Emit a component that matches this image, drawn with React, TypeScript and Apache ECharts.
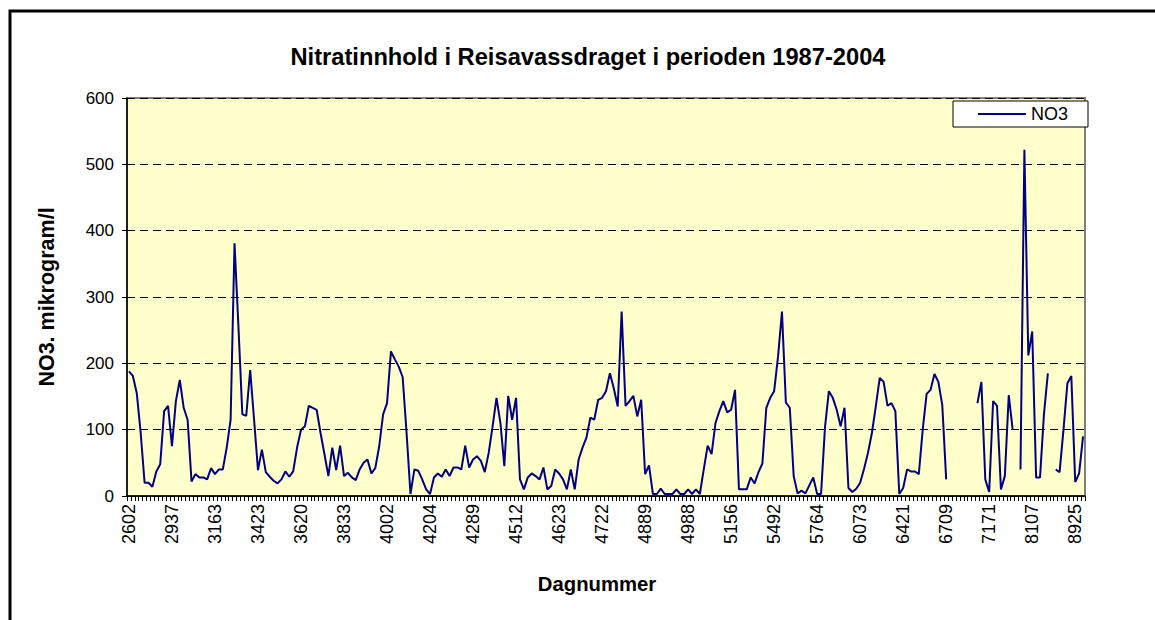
import React, { useEffect, useRef } from 'react';
import * as echarts from 'echarts';

const FONT = '"Liberation Sans", Arial, Helvetica, sans-serif';

const TITLE = 'Nitratinnhold i Reisavassdraget i perioden 1987-2004';
const X_NAME = 'Dagnummer';
const Y_NAME = 'NO3. mikrogram/l';
const SERIES_NAME = 'NO3';

// Day numbers shown on the category axis (one label every 11 categories)
const dayLabels = [
  '2602', '2937', '3163', '3423', '3620', '3833', '4002', '4204', '4289', '4512', '4623', '4722',
  '4889', '4988', '5156', '5492', '5764', '6073', '6421', '6709', '7171', '8107', '8925',
];
const LABEL_STEP = 11;

// NO3 values (microgram/l), one per sample (null = gap)
const no3: (number | null)[] = [
  188, 181, 155, 95, 20, 20, 14, 37, 48, 128,
  136, 75, 143, 175, 133, 115, 22, 33, 28, 28,
  25, 42, 33, 40, 40, 73, 115, 381, 255, 123,
  121, 190, 115, 39, 70, 36, 29, 23, 19, 25,
  37, 29, 37, 73, 100, 105, 136, 133, 130, 95,
  63, 30, 73, 39, 76, 30, 35, 28, 24, 40,
  50, 55, 34, 42, 75, 123, 140, 218, 206, 195,
  179, 95, 3, 40, 38, 25, 10, 3, 28, 34,
  29, 40, 30, 43, 43, 40, 76, 43, 55, 60,
  53, 36, 65, 105, 148, 110, 45, 151, 115, 148,
  25, 10, 28, 34, 30, 25, 43, 10, 15, 40,
  34, 25, 10, 40, 10, 55, 73, 88, 118, 115,
  145, 148, 158, 185, 162, 135, 278, 136, 143, 151,
  120, 145, 33, 46, 3, 3, 11, 3, 3, 3,
  10, 3, 3, 10, 3, 10, 3, 40, 76, 63,
  110, 128, 143, 126, 130, 160, 10, 10, 10, 28,
  19, 36, 49, 133, 148, 158, 210, 278, 141, 133,
  30, 4, 8, 4, 16, 28, 3, 3, 103, 158,
  148, 130, 105, 133, 12, 6, 11, 20, 41, 65,
  95, 135, 178, 172, 136, 140, 128, 3, 12, 40,
  37, 37, 33, 100, 154, 160, 184, 172, 137, 25,
  null, null, null, null, null, null, null, 140, 172, 25,
  6, 143, 136, 10, 30, 152, 100, null, 40, 522,
  212, 248, 28, 28, 123, 185, null, 40, 36, 100,
  170, 181, 21, 34, 90,
];

const categories = no3.map((_, i) => String(i));

export default function App() {
  const ref = useRef<HTMLDivElement>(null);

  useEffect(() => {
    if (!ref.current) return;
    const chart = echarts.init(ref.current, null, { renderer: 'svg' });
    chart.setOption({
      animation: false,
      backgroundColor: '#ffffff',
      textStyle: { fontFamily: FONT },
      grid: {
        left: 127,
        top: 98,
        right: 70,
        bottom: 124,
        show: true,
        backgroundColor: '#FFFFCC',
        borderColor: '#808080',
        borderWidth: 2,
      },
      legend: {
        data: [{ name: SERIES_NAME, icon: 'rect' }],
        left: 953,
        top: 101,
        itemWidth: 48,
        itemHeight: 2,
        padding: [4, 20, 4, 25],
        backgroundColor: '#ffffff',
        borderColor: '#000000',
        borderWidth: 1,
        borderRadius: 0,
        textStyle: { fontSize: 18, color: '#000', fontFamily: FONT },
      },
      xAxis: {
        type: 'category',
        data: categories,
        boundaryGap: true,
        axisLine: { show: true, lineStyle: { color: '#000', width: 1.5 } },
        axisTick: { show: true, interval: 0, length: 5, lineStyle: { color: '#000', width: 1 } },
        axisLabel: {
          interval: LABEL_STEP - 1,
          rotate: 90,
          fontSize: 18,
          color: '#000',
          margin: 8,
          fontFamily: FONT,
          formatter: (_v: string, idx: number) =>
            idx % LABEL_STEP === 0 ? dayLabels[idx / LABEL_STEP] ?? '' : '',
        },
        splitLine: { show: false },
      },
      yAxis: {
        type: 'value',
        min: 0,
        max: 600,
        interval: 100,
        axisLine: { show: true, lineStyle: { color: '#000', width: 1.5 } },
        axisTick: { show: true, length: 5, lineStyle: { color: '#000', width: 1 } },
        axisLabel: { fontSize: 17, color: '#000', margin: 13, fontFamily: FONT },
        splitLine: { show: true, lineStyle: { type: [8, 5], color: '#000', width: 1 } },
      },
      series: [
        {
          type: 'line',
          name: SERIES_NAME,
          data: no3,
          symbol: 'none',
          connectNulls: false,
          lineStyle: { color: '#000080', width: 2 },
          itemStyle: { color: '#000080' },
        },
      ],
      graphic: [
        {
          type: 'rect',
          silent: true,
          z: 100,
          shape: { x: 10, y: 11, width: 1250, height: 700 },
          style: { fill: 'none', stroke: '#000', lineWidth: 3 },
        },
        {
          type: 'text',
          x: 588,
          y: 57,
          silent: true,
          style: {
            text: TITLE,
            fontSize: 23.7,
            fontWeight: 'bold',
            fontFamily: FONT,
            fill: '#000',
            align: 'center',
            verticalAlign: 'middle',
            textAlign: 'center',
            textVerticalAlign: 'middle',
          },
        },
        {
          type: 'text',
          x: 597,
          y: 584,
          silent: true,
          style: {
            text: X_NAME,
            fontSize: 20.3,
            fontWeight: 'bold',
            fontFamily: FONT,
            fill: '#000',
            align: 'center',
            verticalAlign: 'middle',
            textAlign: 'center',
            textVerticalAlign: 'middle',
          },
        },
        {
          type: 'text',
          x: 47,
          y: 297,
          rotation: Math.PI / 2,
          silent: true,
          style: {
            text: Y_NAME,
            fontSize: 21.5,
            fontWeight: 'bold',
            fontFamily: FONT,
            fill: '#000',
            align: 'center',
            verticalAlign: 'middle',
            textAlign: 'center',
            textVerticalAlign: 'middle',
          },
        },
      ],
    });
    return () => chart.dispose();
  }, []);

  return (
    <div
      style={{
        position: 'fixed',
        left: 0,
        top: 0,
        width: 1155,
        height: 620,
        overflow: 'hidden',
        background: '#fff',
      }}
    >
      <div ref={ref} style={{ width: 1155, height: 620 }} />
    </div>
  );
}
